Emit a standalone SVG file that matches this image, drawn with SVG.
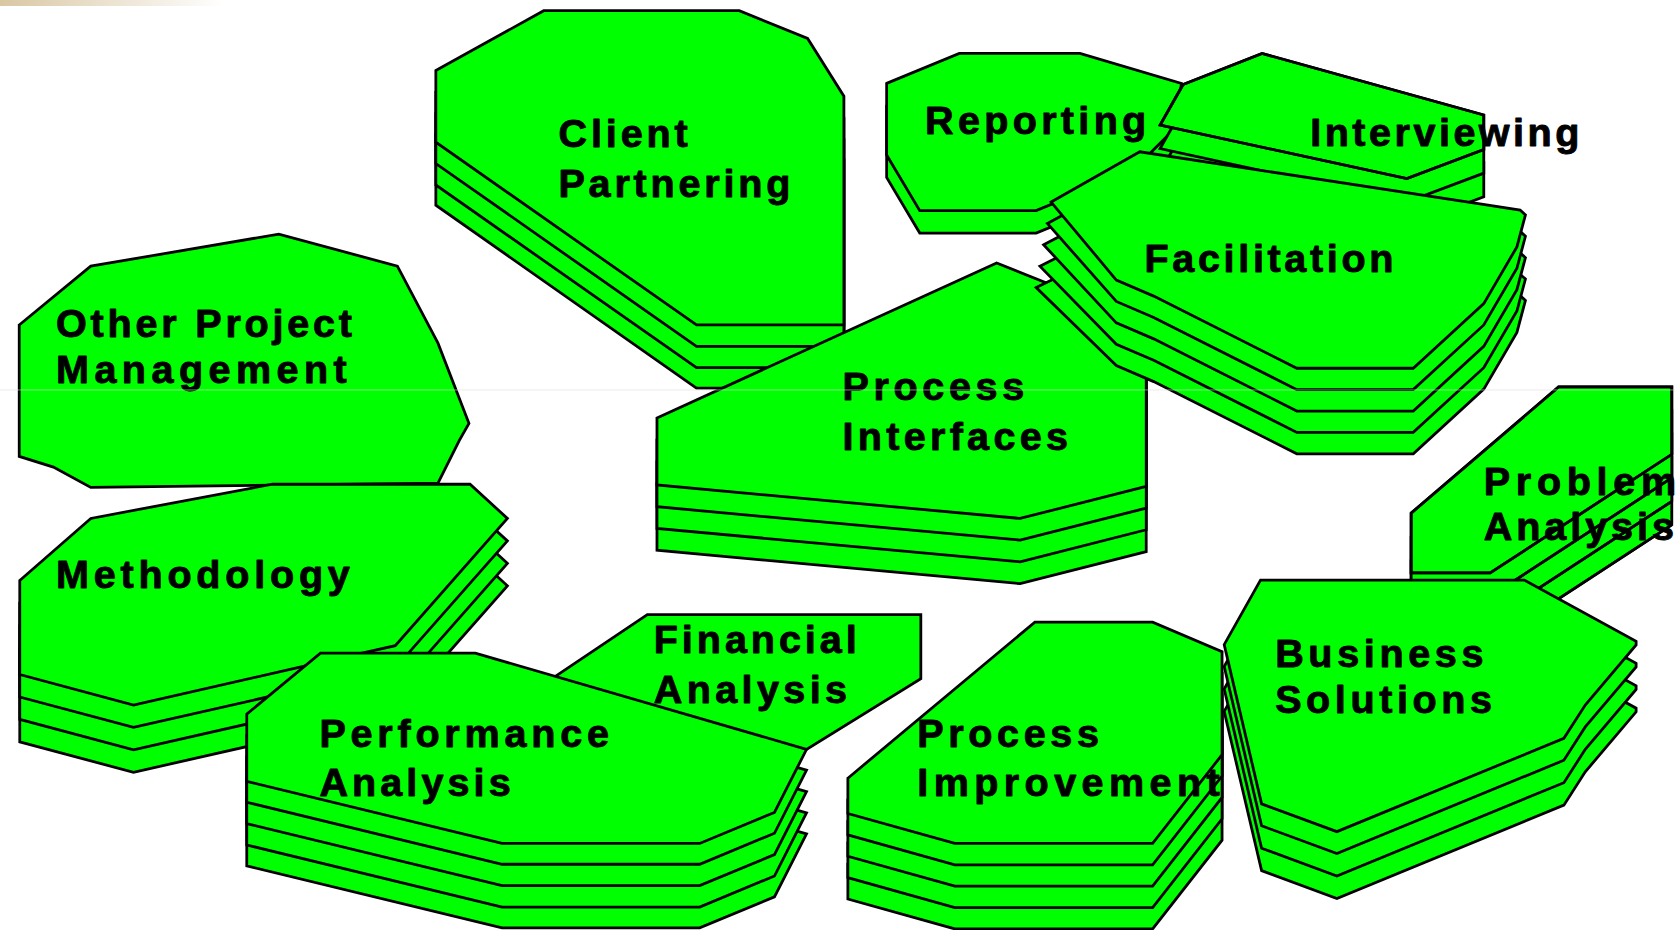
<svg xmlns="http://www.w3.org/2000/svg" width="1675" height="930" viewBox="0 0 1675 930">
<defs>
<style>
.f{fill:#00ff00;stroke:#000;stroke-width:2.6;stroke-linejoin:miter;stroke-miterlimit:10}
.o{fill:none;stroke:#000;stroke-width:2.6;stroke-linejoin:miter}
.t{font-family:"Liberation Sans",Arial,sans-serif;font-weight:bold;font-size:37px;fill:#000;stroke:#000;stroke-width:0.9;stroke-linejoin:round}
</style>
<linearGradient id="bar" x1="0" y1="0" x2="1" y2="0">
<stop offset="0" stop-color="#d9c7a3"/>
<stop offset="1" stop-color="#ffffff"/>
</linearGradient>
<polygon id="cp-p" points="408,66 509,10 692,10 756,36 790,90 790,304 652,304 408,133"/>
<polygon id="met-p" points="18.5,543 85,485 255,453 440,453 475,485 370,604 290,622 125,659.5 18.5,631"/>
<polygon id="pa-p" points="231,668 300,611 445,611 755,701 725,760 655,789 470,789 231,731"/>
<polygon id="rep-p" points="830,78 898,50 1011,50 1106,78 1100,120 1060,160 970,197 861,197 830,145"/>
<polygon id="int-p" points="1107.5,79 1181.5,50 1389,107.6 1389,140 1317,167 1086,117"/>
<polygon id="pi-p" points="615,391 933,246 1073,302 1073,455 955,485 615,453.7"/>
<polygon id="prb-p" points="1321,480 1459,362 1565,362 1565,425 1395,536 1321,536"/>
<polygon id="pim-p" points="793.7,728 968.8,582 1079,582 1144,609.6 1144,706 1079,789 893.8,789 793.7,761"/>
<polygon id="bs-p" points="1180,542.6 1427,542.6 1531.6,600 1531.6,603.4 1484,659.5 1464,690.7 1251.5,778 1181,752 1146,603"/>
</defs>
<rect x="0" y="0" width="1675" height="930" fill="#ffffff"/>
<g transform="scale(1.06824 1.06897)">
<rect x="0" y="0" width="210" height="5.6" fill="url(#bar)"/>
<g id="connectors"/>

<g id="client-partnering">
<use href="#cp-p" class="f" y="59"/>
<use href="#cp-p" class="f" y="40"/>
<use href="#cp-p" class="f" y="20"/>
<use href="#cp-p" class="f"/>
<text class="t" x="522.8" y="137.5" textLength="121" lengthAdjust="spacing">Client</text>
<text class="t" x="522.8" y="184" textLength="217" lengthAdjust="spacing">Partnering</text>
</g>

<g id="other-project-management">
<polygon class="f" points="18,304 85,249 261,219 372,249 410,321 439,396 430,412 410,452 85,456 50,437 18,427"/>
<text class="t" x="52.5" y="315" textLength="277" lengthAdjust="spacing">Other Project</text>
<text class="t" x="52.5" y="358" textLength="272" lengthAdjust="spacing">Management</text>
</g>

<g id="methodology">
<use href="#met-p" class="f" y="63"/>
<use href="#met-p" class="f" y="42"/>
<use href="#met-p" class="f" y="21"/>
<use href="#met-p" class="f"/>
<text class="t" x="52.5" y="550" textLength="275" lengthAdjust="spacing">Methodology</text>
</g>

<g id="financial-analysis">
<polygon class="f" points="515,636 606,575 862,575 862,635 755,701 700,710 520,648"/>
<text class="t" x="612" y="611" textLength="190" lengthAdjust="spacing">Financial</text>
<text class="t" x="612" y="658" textLength="181" lengthAdjust="spacing">Analysis</text>
</g>

<g id="performance-analysis">
<use href="#pa-p" class="f" y="79"/>
<use href="#pa-p" class="f" y="59.5"/>
<use href="#pa-p" class="f" y="39.5"/>
<use href="#pa-p" class="f" y="19.5"/>
<use href="#pa-p" class="f"/>
<text class="t" x="299" y="698.5" textLength="271" lengthAdjust="spacing">Performance</text>
<text class="t" x="299" y="745" textLength="179" lengthAdjust="spacing">Analysis</text>
</g>

<g id="reporting">
<use href="#rep-p" class="f" y="21"/>
<use href="#rep-p" class="f"/>
<text class="t" x="866" y="125" textLength="207" lengthAdjust="spacing">Reporting</text>
</g>

<g id="interviewing">
<use href="#int-p" class="f" y="44"/>
<use href="#int-p" class="f" y="22"/>
<use href="#int-p" class="f"/>
<text class="t" x="1226.5" y="137" textLength="252" lengthAdjust="spacing">Interviewing</text>
<use href="#int-p" class="o"/>
</g>

<g id="process-interfaces">
<use href="#pi-p" class="f" y="61"/>
<use href="#pi-p" class="f" y="40.6"/>
<use href="#pi-p" class="f" y="20.3"/>
<use href="#pi-p" class="f"/>
<text class="t" x="788.7" y="374" textLength="170" lengthAdjust="spacing">Process</text>
<text class="t" x="788.7" y="421" textLength="211" lengthAdjust="spacing">Interfaces</text>
</g>

<g id="facilitation">
<polygon class="f" points="970,269 1067,222 1393,272 1423,276.5 1428,281 1420,311 1389,364 1323,424.5 1214,424.5 1080,357 1045,342"/>
<polygon class="f" points="973.5,249 1067,202 1393,252 1423,256.5 1428,261 1420,291 1389,344 1323,404.5 1214,404.5 1080,337 1045,322"/>
<polygon class="f" points="977,229 1067,182 1393,232 1423,236.5 1428,241 1420,271 1389,324 1323,384.5 1214,384.5 1080,317 1045,302"/>
<polygon class="f" points="980.5,209 1067,162 1393,212 1423,216.5 1428,221 1420,251 1389,304 1323,364.5 1214,364.5 1080,297 1045,282"/>
<polygon class="f" points="984,189 1067,142 1393,192 1423,196.5 1428,201 1420,231 1389,284 1323,344.5 1214,344.5 1080,277 1045,262"/>
<text class="t" x="1071.4" y="254" textLength="233" lengthAdjust="spacing">Facilitation</text>
</g>

<g id="problem-analysis">
<use href="#prb-p" class="f" y="66"/>
<use href="#prb-p" class="f" y="44"/>
<use href="#prb-p" class="f" y="22"/>
<use href="#prb-p" class="f"/>
<text class="t" x="1389" y="463" textLength="180" lengthAdjust="spacing">Problem</text>
<text class="t" x="1389" y="505" textLength="178" lengthAdjust="spacing">Analysis</text>
<use href="#prb-p" class="o"/>
<polyline class="o" points="1565,447 1395,558"/>
<polyline class="o" points="1565,469 1395,580"/>
<polyline class="o" points="1565,491 1395,602"/>
</g>

<g id="process-improvement">
<use href="#pim-p" class="f" y="80"/>
<use href="#pim-p" class="f" y="60"/>
<use href="#pim-p" class="f" y="40"/>
<use href="#pim-p" class="f" y="20"/>
<use href="#pim-p" class="f"/>
<text class="t" x="858.7" y="698.5" textLength="170" lengthAdjust="spacing">Process</text>
<text class="t" x="858.7" y="745" textLength="283" lengthAdjust="spacing">Improvement</text>
</g>

<g id="business-solutions">
<use href="#bs-p" class="f" y="62.5"/>
<use href="#bs-p" class="f" y="41.5"/>
<use href="#bs-p" class="f" y="20.5"/>
<use href="#bs-p" class="f"/>
<text class="t" x="1193.7" y="623.6" textLength="195" lengthAdjust="spacing">Business</text>
<text class="t" x="1193.7" y="667" textLength="203" lengthAdjust="spacing">Solutions</text>
</g>

<line x1="0" y1="364.8" x2="1570" y2="364.8" stroke="#dcdcdc" stroke-opacity="0.6" stroke-width="0.9"/>
</g>
</svg>
